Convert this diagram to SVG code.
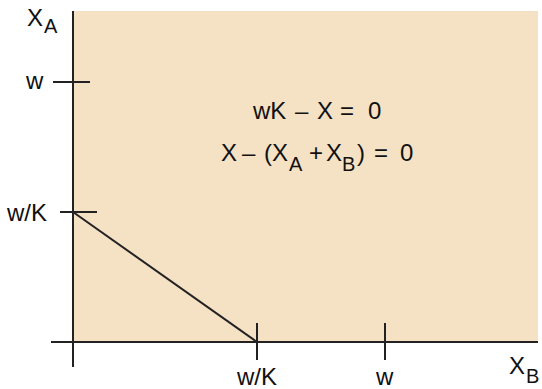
<svg xmlns="http://www.w3.org/2000/svg" width="542" height="389" viewBox="0 0 542 389">
<style>
.ax{stroke:#222;stroke-width:2;fill:none}
.t{font-family:"Liberation Sans",Arial,sans-serif;font-size:24px;fill:#111}
.s{font-size:20px}
</style>
<rect width="542" height="389" fill="#fff"/>
<g id="plot-area"><rect x="73" y="11" width="465" height="331" fill="#f5e1c4"/></g>
<g id="connectors">
<line class="ax" x1="73" y1="11" x2="73" y2="367"/>
<line class="ax" x1="51" y1="342" x2="538" y2="342"/>
<line class="ax" x1="53" y1="82" x2="90" y2="82"/>
<line class="ax" x1="60" y1="212" x2="97" y2="212"/>
<line class="ax" x1="257" y1="323" x2="257" y2="360"/>
<line class="ax" x1="385" y1="323" x2="385" y2="360"/>
<line class="ax" x1="73" y1="212" x2="257" y2="342"/>
</g>
<g id="axis-labels">
<text class="t" y="26"><tspan x="27">X</tspan><tspan class="s" x="44" dy="7">A</tspan></text>
<text class="t" y="374"><tspan x="509">X</tspan><tspan class="s" x="526" dy="9">B</tspan></text>
<text class="t" x="26" y="89">w</text>
<text class="t" x="7" y="221">w/K</text>
<text class="t" x="237" y="385">w/K</text>
<text class="t" x="376" y="385">w</text>
</g>
<g id="equations">
<text class="t" y="119"><tspan x="253">wK</tspan><tspan x="295">–</tspan><tspan x="317">X</tspan><tspan x="340">=</tspan><tspan x="368">0</tspan></text>
<text class="t" y="161"><tspan x="221">X</tspan><tspan x="242">–</tspan><tspan x="264">(X</tspan><tspan class="s" x="289" dy="10">A</tspan><tspan x="309" dy="-10">+</tspan><tspan x="326">X</tspan><tspan class="s" x="342" dy="10">B</tspan><tspan x="357" dy="-10">)</tspan><tspan x="374">=</tspan><tspan x="400">0</tspan></text>
</g>
</svg>
